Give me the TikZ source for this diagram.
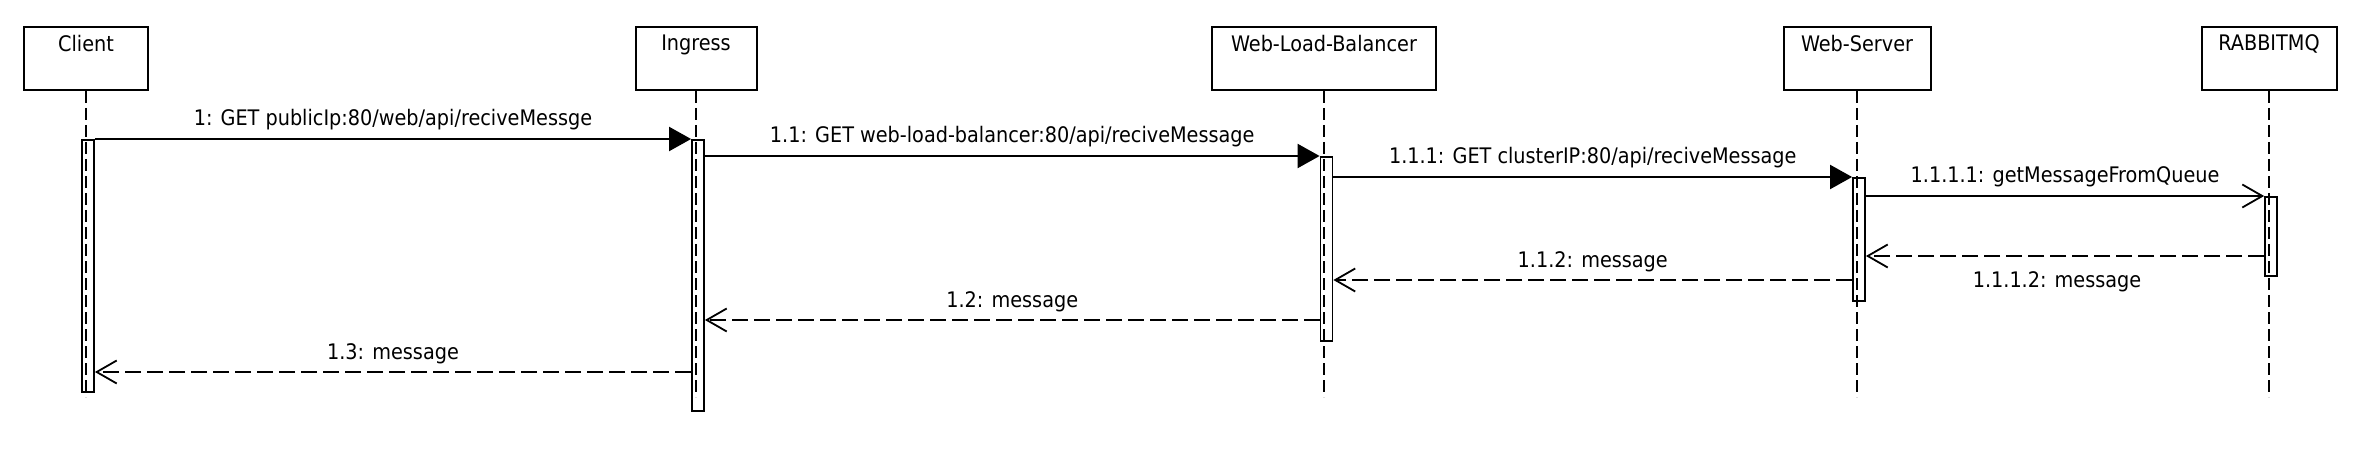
\documentclass[tikz,border=0pt]{standalone}
\usepackage{fontspec}
\setmainfont{DejaVu Sans Condensed}
\usetikzlibrary{arrows.meta}
\begin{document}
\begin{tikzpicture}[x=0.5pt,y=-0.5pt,
  every node/.style={font=\fontsize{10.7}{13}\selectfont},
  actor/.style={draw, line width=1pt, minimum height=31.5pt, inner sep=0pt, anchor=north},
  actbar/.style={draw, line width=0.9pt, minimum width=6pt, inner sep=0pt, anchor=north},
  lifeline/.style={line width=0.8pt, dash pattern=on 6pt off 2.5pt},
  sync/.style={line width=1pt, -{Triangle[length=11pt,width=12pt]}},
  async/.style={line width=1pt, -{Straight Barb[length=10pt,width=11.5pt,line width=0.9pt]}},
  reply/.style={line width=0.9pt, dash pattern=on 8pt off 3pt, -{Straight Barb[length=10pt,width=11.5pt,line width=0.9pt]}},
  lbl/.style={midway, anchor=base, yshift=6.5pt, inner sep=0pt},
  lblb/.style={midway, anchor=base, yshift=-15.5pt, xshift=-4pt, inner sep=0pt},
  title/.style={anchor=north, yshift=-1pt}
]
\useasboundingbox (0,0) rectangle (2364,470);

% actors
\node[actor, minimum width=62pt, label={[title]north:Client}] (client) at (86,26) {};
\node[actor, minimum width=60.5pt, label={[title]north:Ingress}] (ingress) at (696,26) {};
\node[actor, minimum width=112pt, label={[title]north:Web-Load-Balancer}] (wlb) at (1324,26) {};
\node[actor, minimum width=73.5pt, label={[title]north:Web-Server}] (ws) at (1857,26) {};
\node[actor, minimum width=67.5pt, label={[title]north:RABBITMQ}] (rmq) at (2269,26) {};

\coordinate (lend) at (0,397);
\foreach \a in {client,ingress,wlb,ws,rmq}{
  \draw[lifeline] (\a.south) -- (\a.south |- lend);
}

% activation bars
\node[actbar, minimum height=126pt] (aC) at (88,139) {};
\node[actbar, minimum height=135.5pt] (aI) at (698,139) {};
\node[actbar, minimum height=92pt] (aW) at (1326.5,156) {};
\node[actbar, minimum height=61.5pt] (aS) at (1859,177) {};
\node[actbar, minimum height=39.5pt] (aR) at (2271,196) {};

\coordinate (r4) at (0,256);
\coordinate (r3) at (0,280);
\coordinate (r2) at (0,320);
\coordinate (r1) at (0,372);

% messages
\draw[sync] (aC.north east) -- node[lbl]{1: GET publicIp:80/web/api/reciveMessge} (aI.north west);
\draw[sync] (aI.east |- aW.north) -- node[lbl]{1.1: GET web-load-balancer:80/api/reciveMessage} (aW.north west);
\draw[sync] (aW.east |- aS.north) -- node[lbl]{1.1.1: GET clusterIP:80/api/reciveMessage} (aS.north west);
\draw[async] (aS.east |- aR.north) -- node[lbl]{1.1.1.1: getMessageFromQueue} (aR.north west);
\draw[reply] (aR.west |- r4) -- node[lblb]{1.1.1.2: message} (aS.east |- r4);
\draw[reply] (aS.west |- r3) -- node[lbl]{1.1.2: message} (aW.east |- r3);
\draw[reply] (aW.west |- r2) -- node[lbl]{1.2: message} (aI.east |- r2);
\draw[reply] (aI.west |- r1) -- node[lbl]{1.3: message} (aC.east |- r1);
\end{tikzpicture}
\end{document}
